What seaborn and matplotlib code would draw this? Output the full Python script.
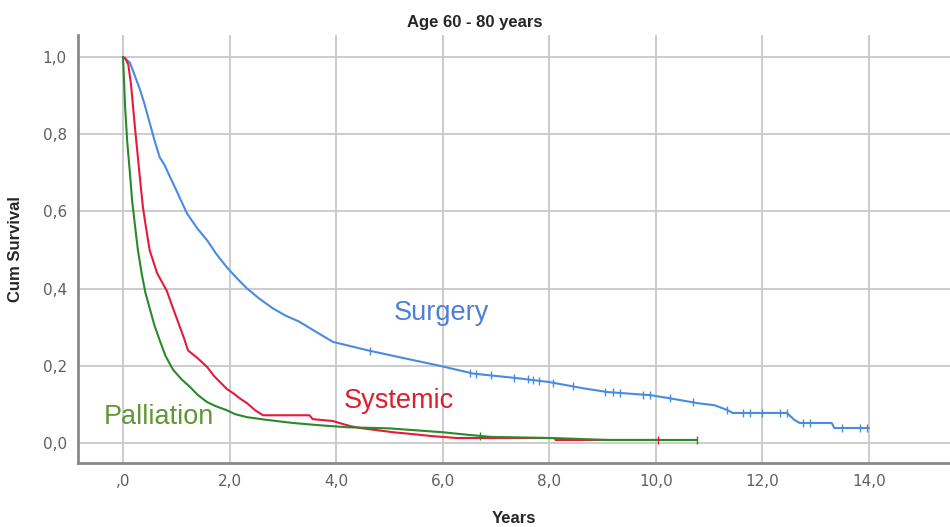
import numpy as np
import pandas as pd
import matplotlib.pyplot as plt
import seaborn as sns

# ---------------------------------------------------------------------------
# data (years, cumulative survival)
# ---------------------------------------------------------------------------
surgery_t = [0, 0.05, 0.13, 0.2, 0.32, 0.4, 0.5, 0.6, 0.69, 0.78, 0.88, 1.0,
             1.2, 1.4, 1.58, 1.75, 1.95, 2.15, 2.33, 2.55, 2.8, 3.05, 3.3,
             3.6, 3.94, 4.3, 4.6, 5.2, 5.95, 6.57, 7.4, 8.0, 8.63, 9.1, 9.9,
             10.26, 10.8, 11.1, 11.35, 11.44, 12.46, 12.6, 12.7, 13.3, 13.35,
             14.0]
surgery_s = [1.0, 0.995, 0.985, 0.96, 0.915, 0.88, 0.83, 0.78, 0.74, 0.72,
             0.69, 0.655, 0.595, 0.555, 0.525, 0.49, 0.455, 0.425, 0.40, 0.375,
             0.35, 0.33, 0.315, 0.29, 0.262, 0.25, 0.24, 0.222, 0.20, 0.18,
             0.168, 0.158, 0.142, 0.132, 0.124, 0.116, 0.103, 0.098, 0.085,
             0.078, 0.078, 0.06, 0.052, 0.052, 0.039, 0.039]
surgery_cens = [4.63, 6.51, 6.62, 6.9, 7.33, 7.6, 7.7, 7.8, 8.07, 8.45, 9.04,
                9.2, 9.32, 9.76, 9.89, 10.26, 10.7, 11.33, 11.63, 11.76, 12.0,
                12.33, 12.46, 12.76, 12.89, 13.5, 13.83, 13.96]

systemic_t = [0, 0.05, 0.1, 0.15, 0.19, 0.23, 0.28, 0.33, 0.375, 0.43, 0.5,
              0.57, 0.64, 0.72, 0.82, 0.95, 1.07, 1.15, 1.22, 1.4, 1.58, 1.7,
              1.82, 1.95, 2.07, 2.2, 2.33, 2.48, 2.63, 3.5, 3.56, 3.94, 4.26,
              4.45, 5.07, 5.45, 5.8, 6.27, 8.1, 8.12, 10.04]
systemic_s = [1.0, 0.995, 0.98, 0.93, 0.87, 0.81, 0.74, 0.67, 0.61, 0.56,
              0.50, 0.47, 0.44, 0.42, 0.395, 0.345, 0.30, 0.27, 0.24, 0.22,
              0.197, 0.175, 0.158, 0.14, 0.129, 0.115, 0.103, 0.085, 0.072,
              0.072, 0.062, 0.057, 0.044, 0.039, 0.028, 0.023, 0.018, 0.013,
              0.013, 0.008, 0.008]
systemic_cens = [10.04]

palliation_t = [0, 0.02, 0.04, 0.08, 0.13, 0.17, 0.22, 0.28, 0.35, 0.42, 0.5,
                0.59, 0.69, 0.8, 0.94, 1.1, 1.26, 1.4, 1.58, 1.75, 1.95, 2.1,
                2.33, 2.7, 3.19, 3.7, 4.2, 5.0, 6.0, 6.5, 6.9, 8.07, 9.1,
                10.77]
palliation_s = [1.0, 0.94, 0.87, 0.78, 0.70, 0.63, 0.57, 0.50, 0.44, 0.39,
                0.35, 0.305, 0.266, 0.225, 0.19, 0.165, 0.145, 0.125, 0.106,
                0.095, 0.085, 0.075, 0.067, 0.06, 0.052, 0.046, 0.041, 0.038,
                0.028, 0.021, 0.016, 0.013, 0.008, 0.008]
palliation_cens = [6.7, 10.77]

groups = ["Surgery", "Systemic", "Palliation"]
colors = {"Surgery": "#4a8ae0", "Systemic": "#e8193c", "Palliation": "#2a8a2a"}
text_colors = {"Surgery": "#4d7fd6", "Systemic": "#d8202e", "Palliation": "#5f9636"}

curves = {"Surgery": (surgery_t, surgery_s, surgery_cens),
          "Systemic": (systemic_t, systemic_s, systemic_cens),
          "Palliation": (palliation_t, palliation_s, palliation_cens)}

lines, marks = [], []
for g in groups:
    t, s, c = curves[g]
    lines.append(pd.DataFrame({"group": g, "time": t, "surv": s}))
    marks.append(pd.DataFrame({"group": g, "time": c,
                               "surv": np.interp(c, t, s)}))
lines = pd.concat(lines, ignore_index=True)
marks = pd.concat(marks, ignore_index=True)

# ---------------------------------------------------------------------------
# plot
# ---------------------------------------------------------------------------
sns.set_style("white")
plt.rcParams["font.family"] = ["Liberation Sans", "DejaVu Sans"]

fig = plt.figure(figsize=(9.5, 5.27), dpi=100)
ax = fig.add_axes([0.0821, 0.1214, 0.9179, 0.8116])

sns.lineplot(data=lines, x="time", y="surv", hue="group", palette=colors,
             estimator=None, sort=False, legend=False, linewidth=1.5, ax=ax,
             zorder=3)
# censored cases
for g in groups:
    sub = marks[marks.group == g]
    ax.plot(sub.time, sub.surv, ls="none", marker="|", markersize=6,
            markeredgewidth=1.0, color=colors[g], zorder=4)

ax.set_xlim(-0.844, 15.52)
ax.set_ylim(-0.0517, 1.056)
xt = np.arange(0, 15, 2)
yt = np.arange(0, 1.01, 0.2)
ax.set_xticks(xt)
ax.set_yticks(yt)
ax.set_xticklabels([",0"] + [f"{v:.1f}".replace(".", ",") for v in xt[1:]])
ax.set_yticklabels([f"{v:.1f}".replace(".", ",") for v in yt])
ax.tick_params(length=0, labelsize=11, labelcolor="#606060", pad=8)
for lab in ax.get_xticklabels() + ax.get_yticklabels():
    lab.set_family("DejaVu Sans")

ax.grid(True, color="#c8c8c8", linewidth=1.3)
ax.set_axisbelow(True)
sns.despine(ax=ax)
for sp in ["left", "bottom"]:
    ax.spines[sp].set_color("#8a8a8a")
    ax.spines[sp].set_linewidth(2)

ax.set_xlabel("Years", fontsize=12, fontweight="bold", labelpad=16)
ax.set_ylabel("Cum Survival", fontsize=12, fontweight="bold", labelpad=14)
fig.text(0.5, 0.958, "Age 60 - 80 years", ha="center", va="center",
         fontsize=12, fontweight="bold")

ax.text(5.97, 0.336, "Surgery", color=text_colors["Surgery"], fontsize=19.5,
        ha="center", va="center")
ax.text(5.18, 0.109, "Systemic", color=text_colors["Systemic"], fontsize=19.5,
        ha="center", va="center")
ax.text(0.675, 0.067, "Palliation", color=text_colors["Palliation"],
        fontsize=19.5, ha="center", va="center")

fig.savefig("out.png", dpi=100)
